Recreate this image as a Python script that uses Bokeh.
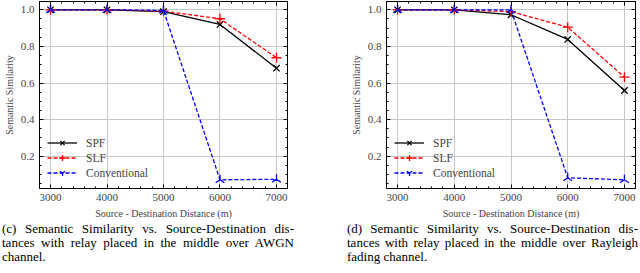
import math
from bokeh.plotting import figure
from bokeh.models import (LinearAxis, FixedTicker, Legend, LegendItem, Div,
                          PrintfTickFormatter, CustomJSTickFormatter)
from bokeh.layouts import row, column
from bokeh.embed import file_html
from bokeh.resources import INLINE

distances = [3000, 4000, 5000, 6000, 7000]
awgn_spf = [1.0, 1.0, 0.99, 0.92, 0.681]
awgn_slf = [1.0, 1.0, 0.993, 0.951, 0.738]
awgn_conv = [1.0, 1.0, 0.997, 0.071, 0.074]
ray_spf = [1.0, 1.0, 0.973, 0.838, 0.559]
ray_slf = [1.0, 1.0, 0.99, 0.905, 0.632]
ray_conv = [1.0, 1.0, 1.0, 0.082, 0.071]
x_ticks = [3000, 4000, 5000, 6000, 7000]
y_ticks = [0.2, 0.4, 0.6, 0.8, 1.0]
series_names = ["SPF", "SLF", "Conventional"]
x_title = "Source - Destination Distance (m)"
y_title = "Semantic Similarity"
caption_left = ["(c) Semantic Similarity vs. Source-Destination dis-",
                "tances with relay placed in the middle over AWGN",
                "channel."]
caption_right = ["(d) Semantic Similarity vs. Source-Destination dis-",
                 "tances with relay placed in the middle over Rayleigh",
                 "fading channel."]

SERIF = "Liberation Serif"


def style_axis(ax):
    ax.major_tick_in = 4
    ax.major_tick_out = 0
    ax.minor_tick_in = 2
    ax.minor_tick_out = 0
    ax.axis_line_color = "black"
    ax.major_tick_line_color = "black"
    ax.minor_tick_line_color = "black"
    ax.major_label_text_font = SERIF
    ax.axis_label_text_font = SERIF
    ax.axis_label_text_font_style = "normal"


def make_panel(spf, slf, conv, bl, br):
    p = figure(width=320, height=222, x_range=(2805, 7195), y_range=(0.0235, 1.0454),
               output_backend="svg", toolbar_location=None,
               x_axis_location=None, y_axis_location=None,
               min_border_left=bl, min_border_right=br, min_border_top=1,
               min_border_bottom=34)
    p.outline_line_color = "black"
    p.outline_line_width = 1
    p.outline_line_alpha = 1
    xt = FixedTicker(ticks=x_ticks, minor_ticks=list(range(2800, 7201, 200)))
    yt = FixedTicker(ticks=y_ticks, minor_ticks=[round(0.05 * i, 2) for i in range(0, 22)])
    blank = CustomJSTickFormatter(code="return '';")

    xb = LinearAxis(ticker=xt, axis_label=x_title)
    yl = LinearAxis(ticker=yt, axis_label=y_title,
                    formatter=PrintfTickFormatter(format="%.1f"))
    xa = LinearAxis(ticker=xt, formatter=blank, major_label_standoff=0)
    yr = LinearAxis(ticker=yt, formatter=blank, major_label_standoff=0)
    for ax in (xb, yl, xa, yr):
        style_axis(ax)
    for ax in (xb, yl):
        ax.major_label_text_font_size = "11px"
        ax.axis_label_text_font_size = "10px"
    xb.major_label_standoff = 5
    yl.major_label_standoff = 5
    xb.axis_label_standoff = 4
    yl.axis_label_standoff = 3
    p.add_layout(xb, "below")
    p.add_layout(yl, "left")
    p.add_layout(xa, "above")
    p.add_layout(yr, "right")

    p.xgrid.ticker = xt
    p.ygrid.ticker = yt
    p.grid.grid_line_color = "#c8c8c8"
    p.grid.grid_line_width = 1

    r1 = p.line(distances, spf, line_color="black", line_width=1.3)
    s1 = p.scatter(distances, spf, marker="x", size=9, line_color="black", line_width=1.3)
    r2 = p.line(distances, slf, line_color="red", line_width=1.3, line_dash="4 2")
    s2 = p.scatter(distances, slf, marker="cross", size=10, line_color="red", line_width=1.3)
    r3 = p.line(distances, conv, line_color="blue", line_width=1.3, line_dash="4 2")
    s3 = p.scatter(distances, conv, marker="y", angle=math.pi, size=10,
                   line_color="blue", line_width=1.3)

    legend = Legend(items=[LegendItem(label=series_names[0], renderers=[r1, s1]),
                           LegendItem(label=series_names[1], renderers=[r2, s2]),
                           LegendItem(label=series_names[2], renderers=[r3, s3])],
                    location="bottom_left", border_line_color=None,
                    background_fill_alpha=0, label_text_font=SERIF,
                    label_text_font_size="11.5px", glyph_width=30, glyph_height=15,
                    label_height=15, spacing=0, padding=3, margin=8, label_standoff=9)
    p.add_layout(legend)
    return p


def make_caption(lines, width, left):
    parts = []
    for i, ln in enumerate(lines):
        last = (i == len(lines) - 1)
        align = "left" if last else "justify"
        parts.append('<div style="text-align:justify;text-align-last:%s;white-space:nowrap;'
                     'height:14px;line-height:14px;">%s</div>' % (align, ln))
    html = ('<div style="font-family:\'Liberation Serif\';font-size:13px;width:%dpx;'
            'overflow:hidden;color:#000;">' % width) + "".join(parts) + "</div>"
    return Div(text=html, width=width, height=42, margin=(0, 0, 0, left),
               styles={"overflow": "hidden"})


p1 = make_panel(awgn_spf, awgn_slf, awgn_conv, 39, 33)
p2 = make_panel(ray_spf, ray_slf, ray_conv, 66, 5)
c1 = make_caption(caption_left, 292, 2)
c2 = make_caption(caption_right, 291, 27)

layout = row(column(p1, c1), column(p2, c2))
open("out.html", "w").write(file_html(layout, INLINE))
